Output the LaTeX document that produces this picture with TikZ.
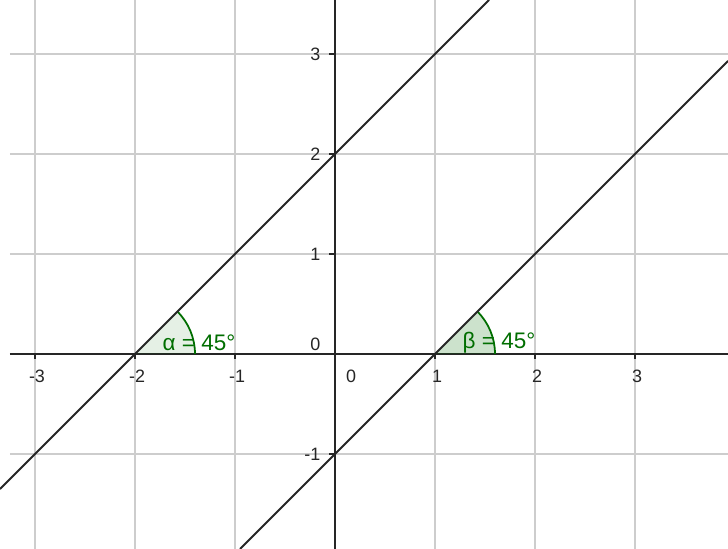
\documentclass[tikz,border=0pt]{standalone}
\usepackage{fontspec}
\setmainfont{Liberation Sans}
\definecolor{ggreen}{RGB}{0,110,0}
\definecolor{gridgray}{RGB}{205,205,205}
\tikzset{
  gridline/.style={draw=gridgray, line width=0.45pt},
  axisline/.style={draw=black!85, line width=0.5pt},
  graphline/.style={draw=black!85, line width=0.6pt},
  anglearc/.style={draw=ggreen, line width=0.5pt},
  axlabel/.style={inner sep=0pt, font=\fontsize{5.1}{6}\selectfont, text=black!85},
  anglabel/.style={inner sep=0pt, anchor=west, font=\fontsize{6.4}{7.5}\selectfont, text=ggreen}
}
\begin{document}
\begin{tikzpicture}[x=1cm,y=1cm]
\useasboundingbox (-3.35,-1.95) rectangle (3.93,3.54);
\fill[white] (-3.35,-1.95) rectangle (3.93,3.54);
\begin{scope}
\clip (-3.35,-1.95) rectangle (3.93,3.54);
% grid
\foreach \x in {-3,...,3} \draw[gridline] (\x,-1.95) -- (\x,3.54);
\foreach \y in {-1,...,3} \draw[gridline] (-3.25,\y) -- (3.93,\y);
% axes
\draw[axisline] (-3.25,0) -- (3.93,0);
\draw[axisline] (0,-1.95) -- (0,3.54);
\foreach \x in {-3,-2,-1,1,2,3} \draw[axisline] (\x,0) -- (\x,-0.05);
\foreach \y in {-1,1,2,3} \draw[axisline] (0,\y) -- (-0.06,\y);
% angle sectors
\coordinate (A) at (-2,0);
\coordinate (B) at (1,0);
\fill[ggreen, fill opacity=0.1] (A) -- ++(0.6,0) arc (0:45:0.6) -- cycle;
\fill[ggreen, fill opacity=0.2] (B) -- ++(0.6,0) arc (0:45:0.6) -- cycle;
\draw[anglearc] (A) ++(0.6,0) arc (0:45:0.6);
\draw[anglearc] (B) ++(0.6,0) arc (0:45:0.6);
% graphs
\coordinate (L1s) at (-3.35,-1.35);
\coordinate (L1e) at (1.54,3.54);
\coordinate (L2s) at (-0.95,-1.95);
\coordinate (L2e) at (3.93,2.93);
\draw[graphline] (L1s) -- (L1e);
\draw[graphline] (L2s) -- (L2e);
\end{scope}
% x labels
\foreach \x in {-3,-2,-1,1,2,3} \node[axlabel] (xl\x) at (\x+0.02,-0.22) {\x};
\node[axlabel] (xl0) at (0.16,-0.22) {0};
% y labels
\foreach \y in {-1,1,2,3} \node[axlabel, anchor=east] (yl\y) at (-0.14,\y) {\y};
\node[axlabel, anchor=east] (yl0) at (-0.14,0.1) {0};
% angle labels
\node[anglabel] (alpha) at (-1.73,0.11) {α = 45°};
\node[anglabel] (beta) at (1.27,0.11) {β = 45°};
\end{tikzpicture}
\end{document}
